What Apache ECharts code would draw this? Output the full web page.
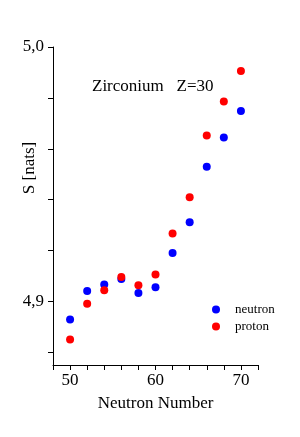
<!DOCTYPE html>
<html><head><meta charset="utf-8">
<script src="https://cdn.jsdelivr.net/npm/echarts@6/dist/echarts.min.js"></script>
<style>html,body{margin:0;padding:0;background:#fff}#c{width:300px;height:437px}</style>
</head><body><div id="c"></div>
<script>
const neutronNumbers = [50, 52, 54, 56, 58, 60, 62, 64, 66, 68, 70];
const neutronS = [4.8929, 4.9041, 4.9066, 4.9088, 4.9033, 4.9056, 4.9190, 4.9311, 4.9529, 4.9644, 4.9748];
const protonS = [4.8850, 4.8991, 4.9044, 4.9096, 4.9063, 4.9106, 4.9267, 4.9409, 4.9652, 4.9786, 4.9906];
const xTickValues = [48, 50, 52, 54, 56, 58, 60, 62, 64, 66, 68, 70, 72];
const xLabelValues = [50, 60, 70];
const yTickValues = [4.88, 4.90, 4.92, 4.94, 4.96, 4.98, 5.00];
const yLabelValues = [4.9, 5.0];
const titleText = 'Zirconium   Z=30';
const seriesNames = ['neutron', 'proton'];

const font = '"Liberation Serif", "DejaVu Serif", serif';
const chart = echarts.init(document.getElementById('c'), null, {renderer: 'canvas'});
chart.setOption({
  backgroundColor: '#fff',
  animation: false,
  title: {text: titleText, left: 87, top: 73, textStyle: {fontFamily: font, fontSize: 17, fontWeight: 'normal', color: '#000'}},
  legend: {
    orient: 'vertical', left: 207, top: 298, itemWidth: 8, itemHeight: 8, itemGap: 4,
    icon: 'circle',
    textStyle: {fontFamily: font, fontSize: 13, color: '#000', padding: [0, 0, 0, 10]},
    data: seriesNames
  },
  grid: {left: 53, top: 47, right: 42, bottom: 72},
  xAxis: {
    type: 'value', min: 48, max: 72, interval: 2,
    name: 'Neutron Number', nameLocation: 'middle', nameGap: 30,
    nameTextStyle: {fontFamily: font, fontSize: 17, color: '#000'},
    axisLine: {show: true, lineStyle: {color: '#000', width: 1}},
    axisTick: {show: true, inside: false, length: 5, customValues: xTickValues, lineStyle: {color: '#000'}},
    axisLabel: {customValues: xLabelValues, margin: 7, fontFamily: font, fontSize: 17, color: '#000'},
    splitLine: {show: false}
  },
  yAxis: {
    type: 'value', min: 4.875, max: 5.0,
    axisLine: {show: true, lineStyle: {color: '#000', width: 1}},
    axisTick: {show: true, inside: false, length: 5, customValues: yTickValues, lineStyle: {color: '#000'}},
    axisLabel: {customValues: yLabelValues, margin: 9, fontFamily: font, fontSize: 17, color: '#000',
      formatter: v => v.toFixed(1).replace('.', ',')},
    splitLine: {show: false}
  },
  graphic: [{
    type: 'text', x: 30, y: 168, rotation: Math.PI / 2,
    style: {text: 'S [nats]', fontFamily: font, fontSize: 17, fill: '#000', align: 'center', verticalAlign: 'middle'}
  }],
  series: [
    {name: seriesNames[0], type: 'scatter', symbolSize: 8, itemStyle: {color: '#0000ff', opacity: 1},
     data: neutronNumbers.map((n, i) => [n, neutronS[i]])},
    {name: seriesNames[1], type: 'scatter', symbolSize: 8, itemStyle: {color: '#ff0000', opacity: 1},
     data: neutronNumbers.map((n, i) => [n, protonS[i]])}
  ]
});
</script></body></html>
